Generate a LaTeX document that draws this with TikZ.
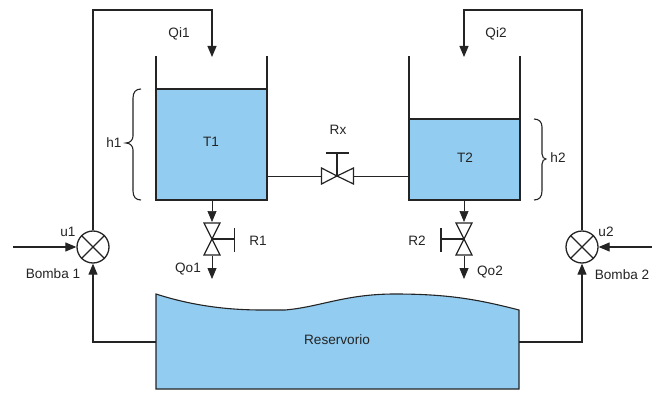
\documentclass[tikz,border=0pt]{standalone}
\usepackage{fontspec}
\setmainfont{Liberation Sans}
\usetikzlibrary{arrows.meta}
\definecolor{water}{HTML}{92CCF0}
\definecolor{ink}{HTML}{242424}
\tikzset{
  x=1pt,y=-1pt,
  line/.style={draw=ink,line width=1.1pt},
  thin line/.style={draw=ink,line width=0.6pt},
  flow/.style={line,-{Triangle[length=11pt,width=9pt]}},
  lab/.style={font=\fontsize{13.6}{15}\selectfont,text=ink,inner sep=0pt},
  sumj/.style={circle,draw=ink,line width=1.3pt,minimum size=32pt,inner sep=0pt,fill=white},
  vtri/.style={draw=ink,line width=1.2pt,fill=white,line join=miter},
}
\begin{document}
\begin{tikzpicture}
\useasboundingbox (0,0) rectangle (652,398);
% tanks
\fill[water] (156,89) rectangle (267,200);
\fill[water] (409,119) rectangle (520,200);
\draw[line] (156,56) -- (156,200) -- (267,200) -- (267,56);
\draw[line] (156,89) -- (267,89);
\draw[line] (409,56) -- (409,200) -- (520,200) -- (520,56);
\draw[line] (409,119) -- (520,119);
\node[lab] (t1) at (211,142) {T1};
\node[lab] (t2) at (465,158) {T2};
\coordinate (t1r) at (267,176);
\coordinate (t2l) at (409,176);
% reservoir
\draw[fill=water,line] (156,294) .. controls (190,305) and (225,310) .. (262,310)
  -- (285,310) .. controls (320,307) and (345,294) .. (395,294)
  .. controls (450,294) and (480,300) .. (519,310)
  -- (519,389) -- (156,389) -- cycle;
\node[lab] (res) at (337,340) {Reservorio};
\coordinate (resl) at (156,342);
\coordinate (resr) at (519,342);
% summing junctions
\node[sumj] (s1) at (93,247) {};
\node[sumj] (s2) at (582,247) {};
\foreach \s in {s1,s2}{
  \draw[line,line width=1.3pt] (\s.45) -- (\s.225);
  \draw[line,line width=1.3pt] (\s.135) -- (\s.315);
}
% pump lines
\coordinate (in1) at (13,247);
\coordinate (in2) at (652,247);
\coordinate (c1a) at (93,10);
\coordinate (c1b) at (212,10);
\coordinate (e1) at (212,57);
\coordinate (c2a) at (582,10);
\coordinate (c2b) at (464,10);
\coordinate (e2) at (464,57);
\draw[flow] (in1) -- (s1.west);
\draw[flow] (in2) -- (s2.east);
\draw[flow] (s1.north) -- (c1a) -- (c1b) -- (e1);
\draw[flow] (s2.north) -- (c2a) -- (c2b) -- (e2);
\draw[flow] (resl) -| (s1.south);
\draw[flow] (resr) -| (s2.south);
% valve R1
\coordinate (v1) at (212,239);
\coordinate (v1t) at (212,222);
\coordinate (v1b) at (212,256);
\coordinate (v1h) at (234.5,239);
\draw[flow,line width=.7pt] (212,200) -- (v1t);
\draw[vtri] (204,223) -- (220,223) -- (v1) -- cycle;
\draw[vtri] (204,255) -- (220,255) -- (v1) -- cycle;
\draw[line] (v1) -- (v1h);
\draw[line] (234.5,228) -- (234.5,252);
\coordinate (o1) at (212,279);
\draw[flow,line width=.8pt] (v1b) -- (o1);
% valve R2
\coordinate (v2) at (464,239);
\coordinate (v2t) at (464,222);
\coordinate (v2b) at (464,256);
\coordinate (v2h) at (441,239);
\draw[flow,line width=.7pt] (464,200) -- (v2t);
\draw[vtri] (456,223) -- (472,223) -- (v2) -- cycle;
\draw[vtri] (456,255) -- (472,255) -- (v2) -- cycle;
\draw[line] (v2) -- (v2h);
\draw[line] (441,228) -- (441,252);
\coordinate (o2) at (464,279);
\draw[flow,line width=.8pt] (v2b) -- (o2);
% valve Rx
\coordinate (vx) at (337,176);
\coordinate (vxl) at (321,176);
\coordinate (vxr) at (353.5,176);
\draw[thin line] (t1r) -- (vxl);
\draw[thin line] (vxr) -- (t2l);
\draw[vtri] (321.5,168) -- (321.5,184) -- (vx) -- cycle;
\draw[vtri] (353.5,168) -- (353.5,184) -- (vx) -- cycle;
\draw[line] (vx) -- (337,153);
\draw[line] (326,153) -- (349,153);
% braces
\draw[line] (141,89) .. controls (136,89) and (133,92) .. (133,98) -- (133,136)
  .. controls (133,140) and (130,143) .. (126,143)
  .. controls (130,143) and (133,146) .. (133,150) -- (133,191)
  .. controls (133,197) and (136,200) .. (141,200);
\draw[line] (534,119) .. controls (539,119) and (542,122) .. (542,127) -- (542,154)
  .. controls (542,157) and (544,159) .. (546,159)
  .. controls (544,159) and (542,161) .. (542,164) -- (542,191)
  .. controls (542,197) and (539,200) .. (534,200);
% labels
\node[lab] (qi1) at (179,34) {Qi1};
\node[lab] (qi2) at (496,34) {Qi2};
\node[lab] (h1) at (114,143) {h1};
\node[lab] (h2) at (558,158) {h2};
\node[lab] (rx) at (338,130) {Rx};
\node[lab] (r1) at (258,241) {R1};
\node[lab] (r2) at (417,241) {R2};
\node[lab] (u1) at (68,232) {u1};
\node[lab] (u2) at (606,232) {u2};
\node[lab] (b1) at (53,274) {Bomba 1};
\node[lab] (b2) at (622,275) {Bomba 2};
\node[lab] (qo1) at (188,269) {Qo1};
\node[lab] (qo2) at (490,272) {Qo2};
\end{tikzpicture}
\end{document}
